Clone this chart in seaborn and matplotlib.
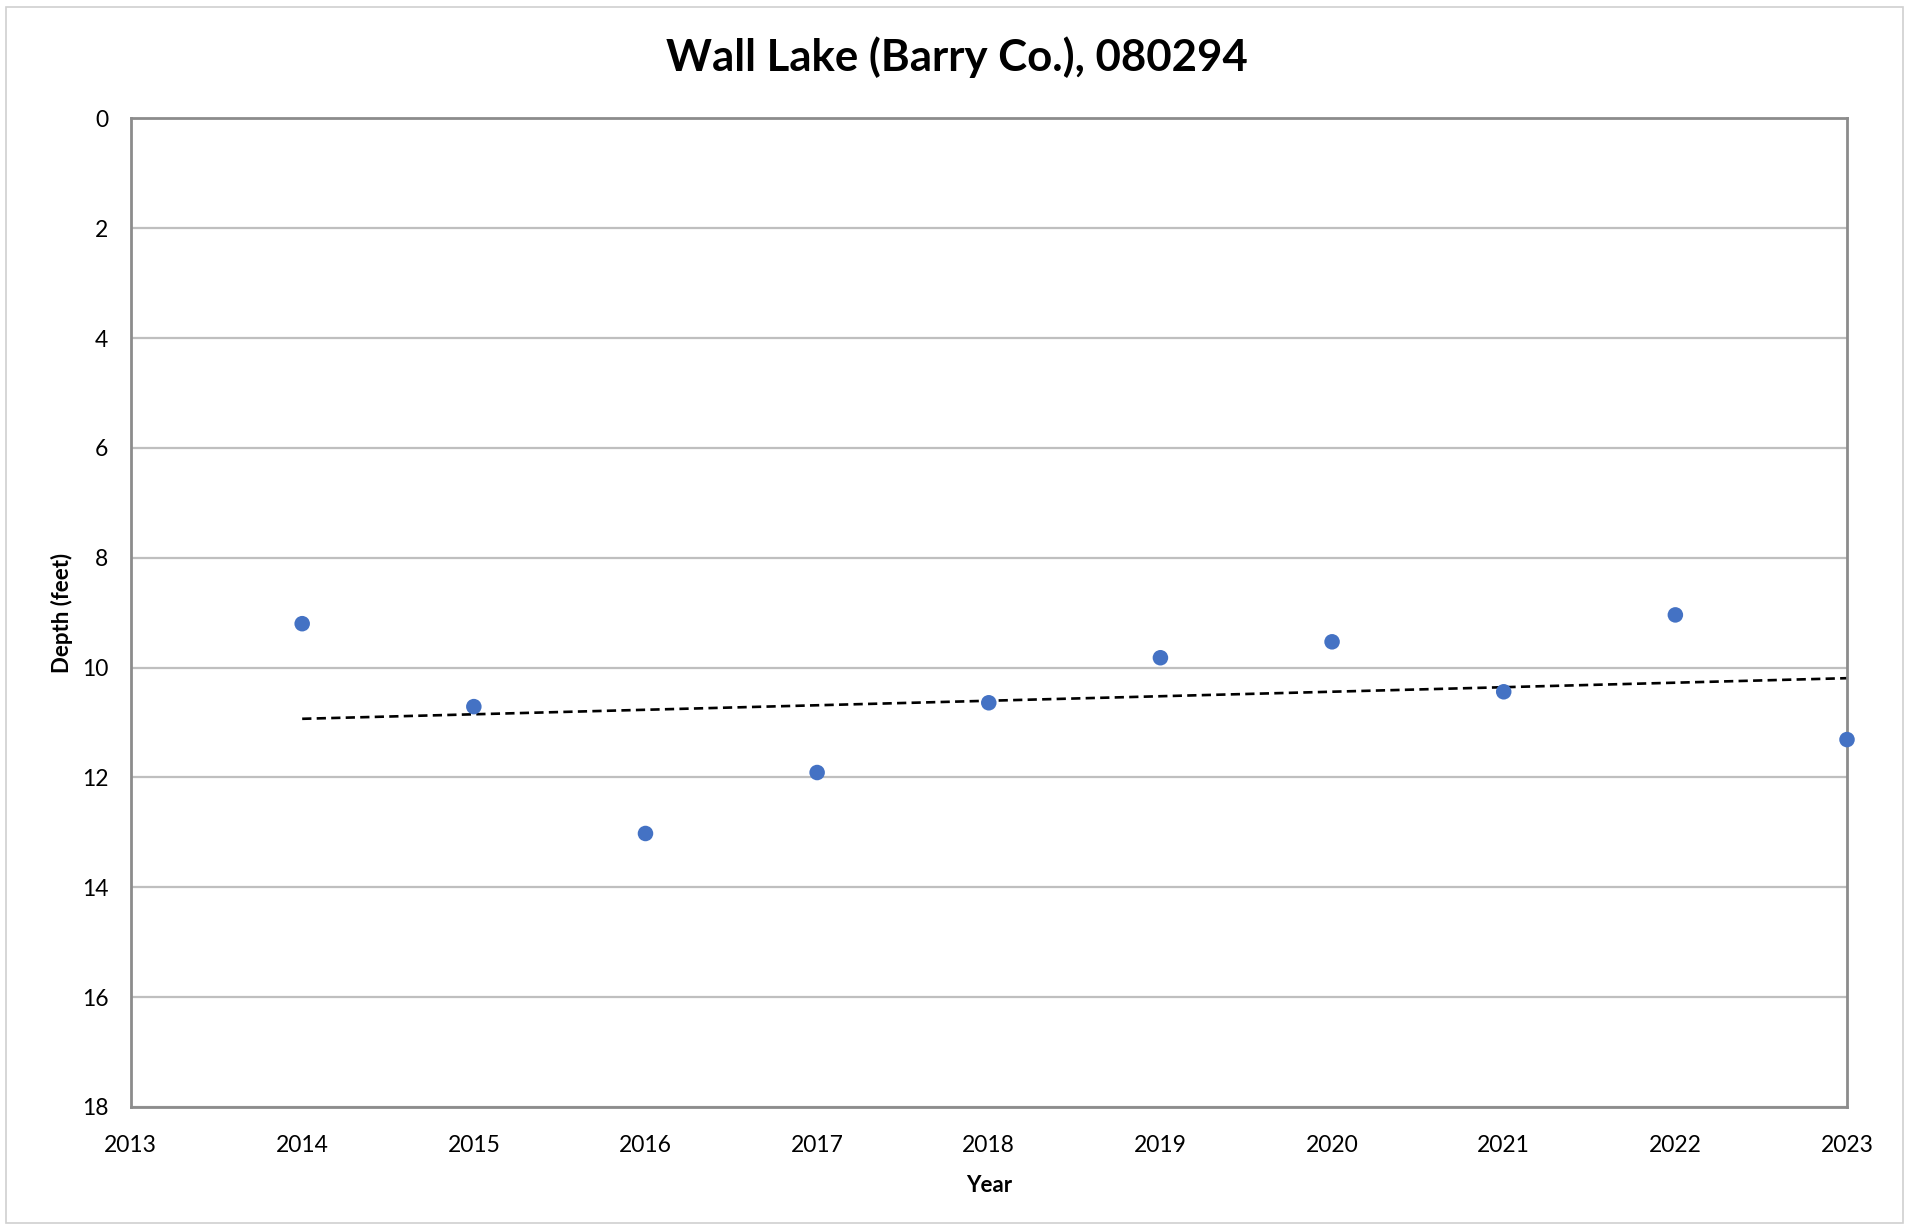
import numpy as np
import pandas as pd
import matplotlib
matplotlib.use('Agg')
import matplotlib.pyplot as plt
from matplotlib.patches import Rectangle
import seaborn as sns

# secchi depth readings
years = [2014, 2015, 2016, 2017, 2018, 2019, 2020, 2021, 2022, 2023]
depth = [9.2, 10.71, 13.02, 11.91, 10.64, 9.82, 9.53, 10.44, 9.04, 11.31]
title = 'Wall Lake (Barry Co.), 080294'

df = pd.DataFrame({'Year': years, 'Depth': depth})

sns.set_style('white')
plt.rcParams['font.family'] = ['Lato', 'DejaVu Sans']
plt.rcParams['text.color'] = 'black'
plt.rcParams['axes.labelcolor'] = 'black'
plt.rcParams['xtick.color'] = 'black'
plt.rcParams['ytick.color'] = 'black'

fig = plt.figure(figsize=(19.14, 12.27), dpi=100)
ax = fig.add_axes([0.0682, 0.0978, 0.8968, 0.8057])

# linear trendline (dashed), like the Excel one
sns.regplot(data=df, x='Year', y='Depth', ax=ax, scatter=False, ci=None, truncate=True,
            line_kws={'color': 'black', 'linestyle': (0, (3.5, 2)), 'linewidth': 1.9})
sns.scatterplot(data=df, x='Year', y='Depth', ax=ax, color='#4472C4', s=125,
                edgecolor='none', zorder=5, clip_on=False)

ax.set_xlim(2013, 2023)
ax.set_ylim(18, 0)
ax.set_xticks(range(2013, 2024))
ax.set_yticks(range(0, 19, 2))
ax.yaxis.grid(True, color='#BFBFBF', linewidth=1.6)
ax.xaxis.grid(False)
ax.set_axisbelow(True)

for s in ax.spines.values():
    s.set_visible(True)
    s.set_color('#8C8C8C')
    s.set_linewidth(2)

ax.tick_params(axis='both', which='major', direction='inout', length=12, width=1,
               labelsize=16.5, pad=10)
ax.tick_params(axis='both', which='major', color='#8C8C8C')
ax.tick_params(axis='x', pad=14)
ax.set_xlabel('Year', fontsize=16, fontweight='bold', labelpad=14)
ax.set_ylabel('Depth (feet)', fontsize=16, fontweight='bold', labelpad=6)
# title is centred on the whole chart, not on the plot area
fig.suptitle(title, x=0.5, y=0.9535, va='center', fontsize=31.5, fontweight='bold',
             color='black')

# thin frame around the whole chart
fig.patches.append(Rectangle((0.003, 0.003), 0.991, 0.991, transform=fig.transFigure,
                             fill=False, edgecolor='#D0D0D0', linewidth=1.2))

fig.savefig('out.png', dpi=100)
